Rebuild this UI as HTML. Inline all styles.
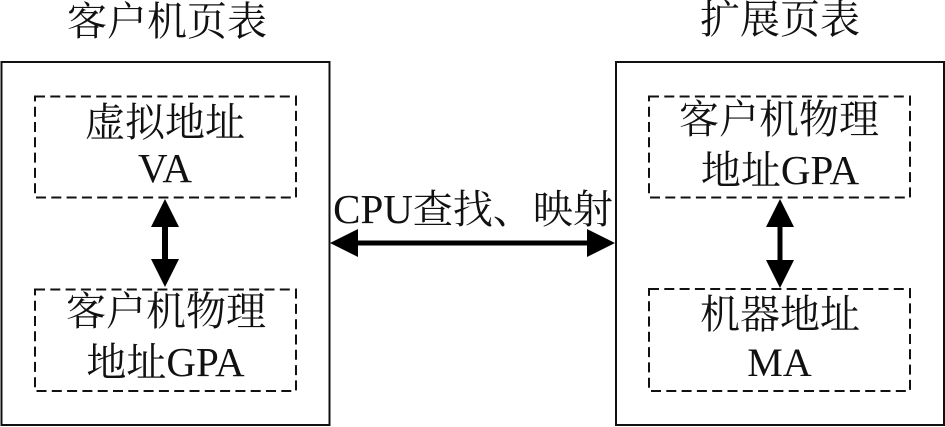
<!DOCTYPE html>
<html>
<head>
<meta charset="utf-8">
<style>
html,body{margin:0;padding:0;background:#fff;width:945px;height:427px;overflow:hidden}
svg{display:block}
text{font-family:"Liberation Serif","Noto Serif CJK SC",serif;font-size:40px;fill:#111;text-anchor:middle}
tspan.l{font-size:41px}
</style>
</head>
<body>
<svg width="945" height="427" viewBox="0 0 945 427" xmlns="http://www.w3.org/2000/svg">
<rect width="945" height="427" fill="#fff"/>
<g fill="none" stroke="#111" stroke-width="2">
<rect x="1.5" y="62" width="328" height="363"/>
<rect x="616" y="62" width="328" height="363"/>
</g>
<g fill="none" stroke="#111" stroke-width="2" stroke-dasharray="10 5.300">
<rect x="35" y="96.500" width="261" height="101"/>
<rect x="35" y="289.500" width="261" height="101.500"/>
<rect x="649" y="96.500" width="261" height="101"/>
<rect x="649" y="289" width="261" height="102"/>
</g>
<g fill="#000">
<path d="M165 199L179 227H168V259H179L165 287L151 259H162V227H151Z"/>
<path d="M780 199L794 227H782.500V260H794L780 288L766 260H777.500V227H766Z"/>
<path d="M330 243L358 229V240.500H587V229L615 243L587 257V245.500H358V257Z"/>
</g>
<text x="167" y="35">客户机页表</text>
<text x="780" y="33">扩展页表</text>
<text x="165" y="136">虚拟地址</text>
<text x="165" y="182"><tspan class="l">VA</tspan></text>
<text x="166" y="325">客户机物理</text>
<text x="165.500" y="376">地址<tspan class="l">GPA</tspan></text>
<text x="779" y="133">客户机物理</text>
<text x="780" y="184">地址<tspan class="l">GPA</tspan></text>
<text x="780" y="328">机器地址</text>
<text x="779.500" y="376">MA</text>
<text x="473" y="223"><tspan class="l">CPU</tspan>查找、映射</text>
</svg>
</body>
</html>
